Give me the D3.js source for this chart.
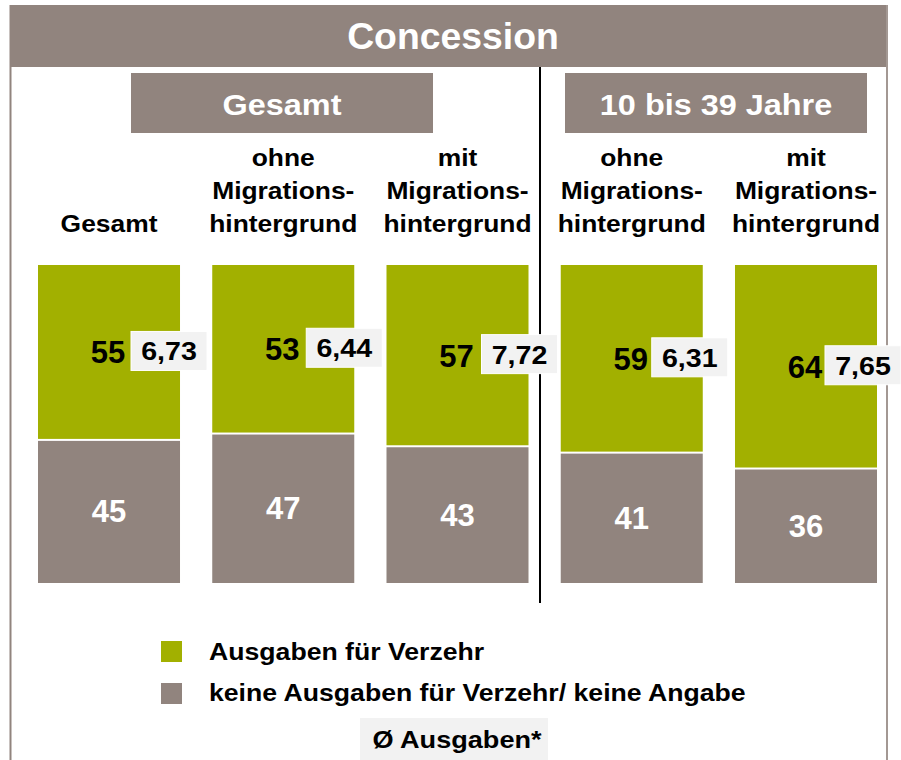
<!DOCTYPE html>
<html>
<head>
<meta charset="utf-8">
<script src="https://cdn.jsdelivr.net/npm/d3@7"></script>
<style>
  body { margin: 0; background: #fff; }
  text { font-family: "Liberation Sans", Arial, sans-serif; font-weight: bold; }
</style>
</head>
<body>
<div id="chart"></div>
<script>
// data
var groupIds = ["ges", "ohne", "mit", "ohne39", "mit39"];
var groupLabels = [["Gesamt"], ["ohne", "Migrations-", "hintergrund"], ["mit", "Migrations-", "hintergrund"],
                   ["ohne", "Migrations-", "hintergrund"], ["mit", "Migrations-", "hintergrund"]];
var ausgaben = [55, 53, 57, 59, 64];
var keineAusgaben = [45, 47, 43, 41, 36];
var avgAusgaben = [6.73, 6.44, 7.72, 6.31, 7.65];
var sections = ["Gesamt", "10 bis 39 Jahre"];
var legendLabels = ["Ausgaben für Verzehr", "keine Ausgaben für Verzehr/ keine Angabe"];

var green = "#a2b000", grey = "#91847e", boxFill = "#f2f2f2";
var svgWidth = 901, svgHeight = 760;
var sx = 1.1; // the original text is a bit wider than Liberation Sans

var svg = d3.select("#chart").append("svg")
  .attr("width", svgWidth)
  .attr("height", svgHeight);

// places a text at x,y with a slight horizontal stretch
function place(t, x, y, s) {
  return t.attr("transform", `translate(${x},${y}) scale(${s || sx},1)`);
}

// frame + banner
svg.append("rect").attr("x", 10).attr("y", 5).attr("width", 877).attr("height", 62).attr("fill", grey);
svg.append("line").attr("x1", 10.5).attr("x2", 10.5).attr("y1", 5).attr("y2", 760)
  .attr("stroke", grey).attr("stroke-width", 2);
svg.append("line").attr("x1", 887).attr("x2", 887).attr("y1", 5).attr("y2", 760)
  .attr("stroke", "#a39893").attr("stroke-width", 2);
place(svg.append("text"), 453, 49, 1.01).attr("text-anchor", "middle")
  .attr("font-size", 37).attr("fill", "#fff").text("Concession");

// divider
svg.append("line").attr("x1", 540).attr("x2", 540).attr("y1", 67).attr("y2", 603)
  .attr("stroke", "#000").attr("stroke-width", 2);

// section boxes
var secX = [131, 565];
sections.forEach(function(s, i) {
  svg.append("rect").attr("x", secX[i]).attr("y", 73).attr("width", 302).attr("height", 60).attr("fill", grey);
  place(svg.append("text"), secX[i] + 151, 115, 1.08).attr("text-anchor", "middle")
    .attr("font-size", 30).attr("fill", "#fff").text(s);
});

// scales
var x = d3.scaleBand().domain(groupIds).range([38, 877]).paddingInner(0.185).paddingOuter(0);
var y = d3.scaleLinear().domain([0, 100]).range([583, 265]);
var cx = function(i) { return x(groupIds[i]) + x.bandwidth() / 2; };

// column headers
groupLabels.forEach(function(lines, i) {
  var base = 232 - (lines.length - 1) * 33;
  var t = place(svg.append("text"), cx(i), base).attr("text-anchor", "middle")
    .attr("font-size", 24).attr("fill", "#000");
  lines.forEach(function(l, j) {
    t.append("tspan").attr("x", 0).attr("y", j * 33).text(l);
  });
});

// bars
var bars = svg.append("g");
bars.selectAll(".green").data(ausgaben).enter().append("rect")
  .attr("x", (d, i) => x(groupIds[i]))
  .attr("width", x.bandwidth())
  .attr("y", y(100))
  .attr("height", (d, i) => y(keineAusgaben[i]) - y(100) - 1)
  .attr("fill", green);
bars.selectAll(".grey").data(keineAusgaben).enter().append("rect")
  .attr("x", (d, i) => x(groupIds[i]))
  .attr("width", x.bandwidth())
  .attr("y", d => y(d) + 1)
  .attr("height", d => y(0) - y(d) - 1)
  .attr("fill", grey);

// value labels
bars.selectAll(".gl").data(ausgaben).enter().append("text")
  .attr("x", (d, i) => cx(i) - 1)
  .attr("y", (d, i) => (y(100) + y(keineAusgaben[i])) / 2 + 11)
  .attr("text-anchor", "middle").attr("font-size", 31).attr("fill", "#000")
  .text(d => d);
bars.selectAll(".kl").data(keineAusgaben).enter().append("text")
  .attr("x", (d, i) => cx(i))
  .attr("y", d => (y(d) + y(0)) / 2 + 11)
  .attr("text-anchor", "middle").attr("font-size", 31).attr("fill", "#fff")
  .text(d => d);

// average boxes
var boxShift = [22, 23, 24, 20, 19];
var fmt = d => d3.format(".2f")(d).replace(".", ",");
var avg = bars.selectAll(".avg").data(avgAusgaben).enter().append("g")
  .attr("transform", (d, i) => `translate(${cx(i) + boxShift[i]}, ${(y(100) + y(keineAusgaben[i])) / 2 - 21})`);
avg.append("rect").attr("width", 76).attr("height", 39)
  .attr("fill", boxFill).attr("stroke", "#fff").attr("stroke-width", 1);
avg.each(function(d) {
  place(d3.select(this).append("text"), 38, 29).attr("text-anchor", "middle")
    .attr("font-size", 26).attr("fill", "#000").text(fmt(d));
});

// legend
var legend = svg.append("g");
[green, grey].forEach(function(c, i) {
  legend.append("rect").attr("x", 161).attr("y", 641 + i * 42).attr("width", 21).attr("height", 21).attr("fill", c);
  place(legend.append("text"), 209, 660 + i * 41, 1.11).attr("font-size", 24).attr("fill", "#000").text(legendLabels[i]);
});
legend.append("rect").attr("x", 360).attr("y", 718).attr("width", 188).attr("height", 42).attr("fill", boxFill);
place(legend.append("text"), 457, 748, 1.13).attr("text-anchor", "middle")
  .attr("font-size", 24).attr("fill", "#000").text("Ø Ausgaben*");
</script>
</body>
</html>
